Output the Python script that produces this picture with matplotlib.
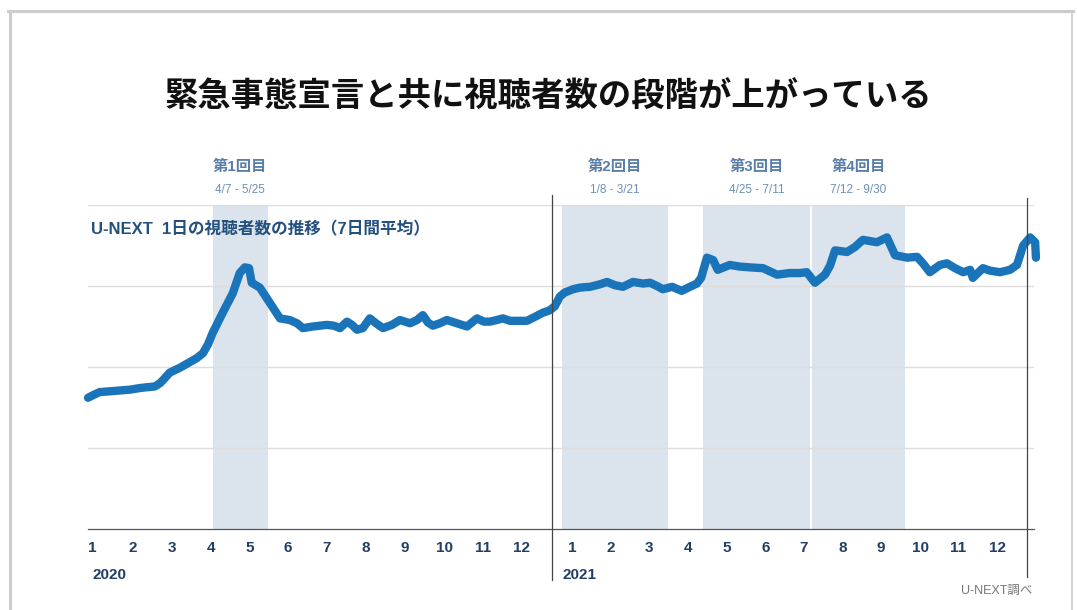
import matplotlib.pyplot as plt
from matplotlib.lines import Line2D

plt.rcParams['font.family'] = ['Liberation Sans', 'Noto Sans CJK JP', 'DejaVu Sans']

# x = months since 2020-01-01, y = viewers (relative units, 7-day average)
months = [0.00, 0.12, 0.30, 0.56, 0.82, 1.08, 1.34, 1.52, 1.73, 1.86, 1.98, 2.11,
          2.37, 2.63, 2.81, 2.97, 3.10, 3.22, 3.48, 3.74, 3.92, 4.05, 4.16, 4.23,
          4.44, 4.70, 4.96, 5.21, 5.40, 5.55, 5.81, 5.99, 6.17, 6.35, 6.51, 6.69,
          6.82, 6.95, 7.10, 7.28, 7.44, 7.62, 7.85, 8.06, 8.19, 8.32, 8.50, 8.65,
          8.78, 8.91, 9.09, 9.27, 9.53, 9.79, 10.05, 10.23, 10.38, 10.56, 10.72, 10.90,
          11.16, 11.34, 11.55, 11.75, 11.93, 12.06, 12.19, 12.32, 12.53, 12.71, 12.97, 13.22,
          13.41, 13.61, 13.82, 14.08, 14.34, 14.52, 14.70, 14.85, 15.09, 15.34, 15.55, 15.73,
          15.84, 15.99, 16.15, 16.27, 16.58, 16.84, 17.10, 17.44, 17.62, 17.80, 18.13, 18.39,
          18.57, 18.78, 19.04, 19.17, 19.30, 19.61, 19.81, 20.02, 20.38, 20.64, 20.85, 21.16,
          21.42, 21.57, 21.75, 22.01, 22.19, 22.40, 22.61, 22.79, 22.86, 23.12, 23.30, 23.56,
          23.82, 24.00, 24.16, 24.34, 24.47, 24.49]
viewers = [1.62, 1.65, 1.69, 1.70, 1.71, 1.72, 1.74, 1.75, 1.76, 1.80, 1.86, 1.93,
           1.99, 2.06, 2.11, 2.17, 2.28, 2.42, 2.67, 2.91, 3.16, 3.23, 3.22, 3.04,
           2.98, 2.79, 2.60, 2.58, 2.54, 2.48, 2.50, 2.51, 2.52, 2.51, 2.48, 2.56,
           2.52, 2.46, 2.48, 2.60, 2.54, 2.48, 2.52, 2.58, 2.56, 2.54, 2.58, 2.64,
           2.55, 2.51, 2.54, 2.58, 2.54, 2.50, 2.60, 2.56, 2.56, 2.58, 2.60, 2.57,
           2.57, 2.57, 2.62, 2.67, 2.70, 2.75, 2.87, 2.92, 2.96, 2.98, 2.99, 3.02,
           3.05, 3.01, 2.99, 3.05, 3.03, 3.04, 3.00, 2.96, 2.99, 2.94, 2.99, 3.03,
           3.10, 3.35, 3.32, 3.20, 3.26, 3.24, 3.23, 3.22, 3.18, 3.14, 3.16, 3.16,
           3.17, 3.04, 3.14, 3.25, 3.44, 3.42, 3.48, 3.57, 3.54, 3.60, 3.38, 3.35,
           3.36, 3.28, 3.17, 3.26, 3.28, 3.22, 3.17, 3.20, 3.10, 3.22, 3.19, 3.17,
           3.20, 3.26, 3.50, 3.60, 3.54, 3.35]

# state of emergency periods (as drawn) and their labels
emergency_start = [3.22, 12.24, 15.89, 18.70]
emergency_end = [4.65, 14.98, 18.65, 21.11]
emergency_names = ['第1回目', '第2回目', '第3回目', '第4回目']
emergency_dates = ['4/7 - 5/25', '1/8 - 3/21', '4/25 - 7/11', '7/12 - 9/30']

tick_pos = [0.12, 1.16, 2.17, 3.17, 4.18, 5.16, 6.17, 7.17, 8.19, 9.22, 10.20, 11.21,
            12.50, 13.50, 14.49, 15.50, 16.50, 17.50, 18.49, 19.50, 20.49, 21.50, 22.49, 23.50]
tick_labels = [str(m) for m in range(1, 13)] * 2
years = ['2020', '2021']
year_pos = [0.12, 12.27]

line_color = '#1a74ba'
shade_color = '#dbe3ec'
navy = '#1f3f66'

fig = plt.figure(figsize=(10.77, 6.10), dpi=100)
ax = fig.add_axes([88 / 1077, 81 / 610, (1034 - 88) / 1077, 324 / 610])

for s, e in zip(emergency_start, emergency_end):
    ax.axvspan(s, e, color=shade_color, lw=0, zorder=0)

ax.set_xlim(0, 24.44)
ax.set_ylim(0, 4)
ax.set_yticks([1, 2, 3, 4])
ax.yaxis.grid(True, color='#dddddd', lw=1)
ax.set_axisbelow(True)
for side in ['top', 'right', 'left']:
    ax.spines[side].set_visible(False)
ax.spines['bottom'].set_color('#555555')
ax.spines['bottom'].set_linewidth(0.9)
ax.tick_params(axis='y', left=False, labelleft=False)

ax.plot(months, viewers, color=line_color, lw=6, solid_joinstyle='round',
        solid_capstyle='round', clip_on=False, zorder=3)

# year separator and end marker
ax.axvline(11.98, ymin=-0.157, ymax=1.03, color='#444444', lw=0.9, clip_on=False, zorder=4)
ax.axvline(24.26, ymin=-0.148, ymax=1.022, color='#444444', lw=0.9, clip_on=False, zorder=4)

ax.set_xticks(tick_pos)
ax.set_xticklabels(tick_labels, fontsize=11, fontweight='bold', color=navy)
ax.tick_params(axis='x', length=0, pad=9)

for x, y in zip(year_pos, years):
    ax.text(x, -0.143, y, transform=ax.get_xaxis_transform(), ha='left', va='center',
            fontsize=11, fontweight='bold', color=navy)

for s, e, name, d in zip(emergency_start, emergency_end, emergency_names, emergency_dates):
    c = (s + e) / 2
    ax.text(c, (529 - 167) / 324, name, transform=ax.get_xaxis_transform(), ha='center',
            va='center', fontsize=11, fontweight='bold', color='#5a7ea8', clip_on=False)
    ax.text(c, (529 - 190) / 324, d, transform=ax.get_xaxis_transform(), ha='center',
            va='center', fontsize=8.5, color='#7090b3', clip_on=False)

ax.text(0.003, (529 - 229) / 324, 'U-NEXT  1日の視聴者数の推移（7日間平均）',
        transform=ax.transAxes, ha='left', va='center', fontsize=12,
        fontweight='bold', color='#24507e')

fig.text(0.509, 1 - 97 / 610, '緊急事態宣言と共に視聴者数の段階が上がっている',
         ha='center', va='center', fontsize=24, fontweight='bold', color='#111111',
         family=['Noto Sans CJK JP', 'DejaVu Sans'])

fig.text(1032 / 1077, 1 - 591 / 610, 'U-NEXT調べ', ha='right', va='center',
         fontsize=9, color='#777777')

# grey frame (top, left, right)
border = '#cccccc'
fig.add_artist(Line2D([9.5 / 1077, 9.5 / 1077], [0, 1 - 11 / 610], color=border, lw=2.2))
fig.add_artist(Line2D([8 / 1077, 1073 / 1077], [1 - 11 / 610, 1 - 11 / 610], color=border, lw=2.2))
fig.add_artist(Line2D([1072 / 1077, 1072 / 1077], [0, 1 - 11 / 610], color=border, lw=1.2))

fig.savefig('out.png', dpi=100)
